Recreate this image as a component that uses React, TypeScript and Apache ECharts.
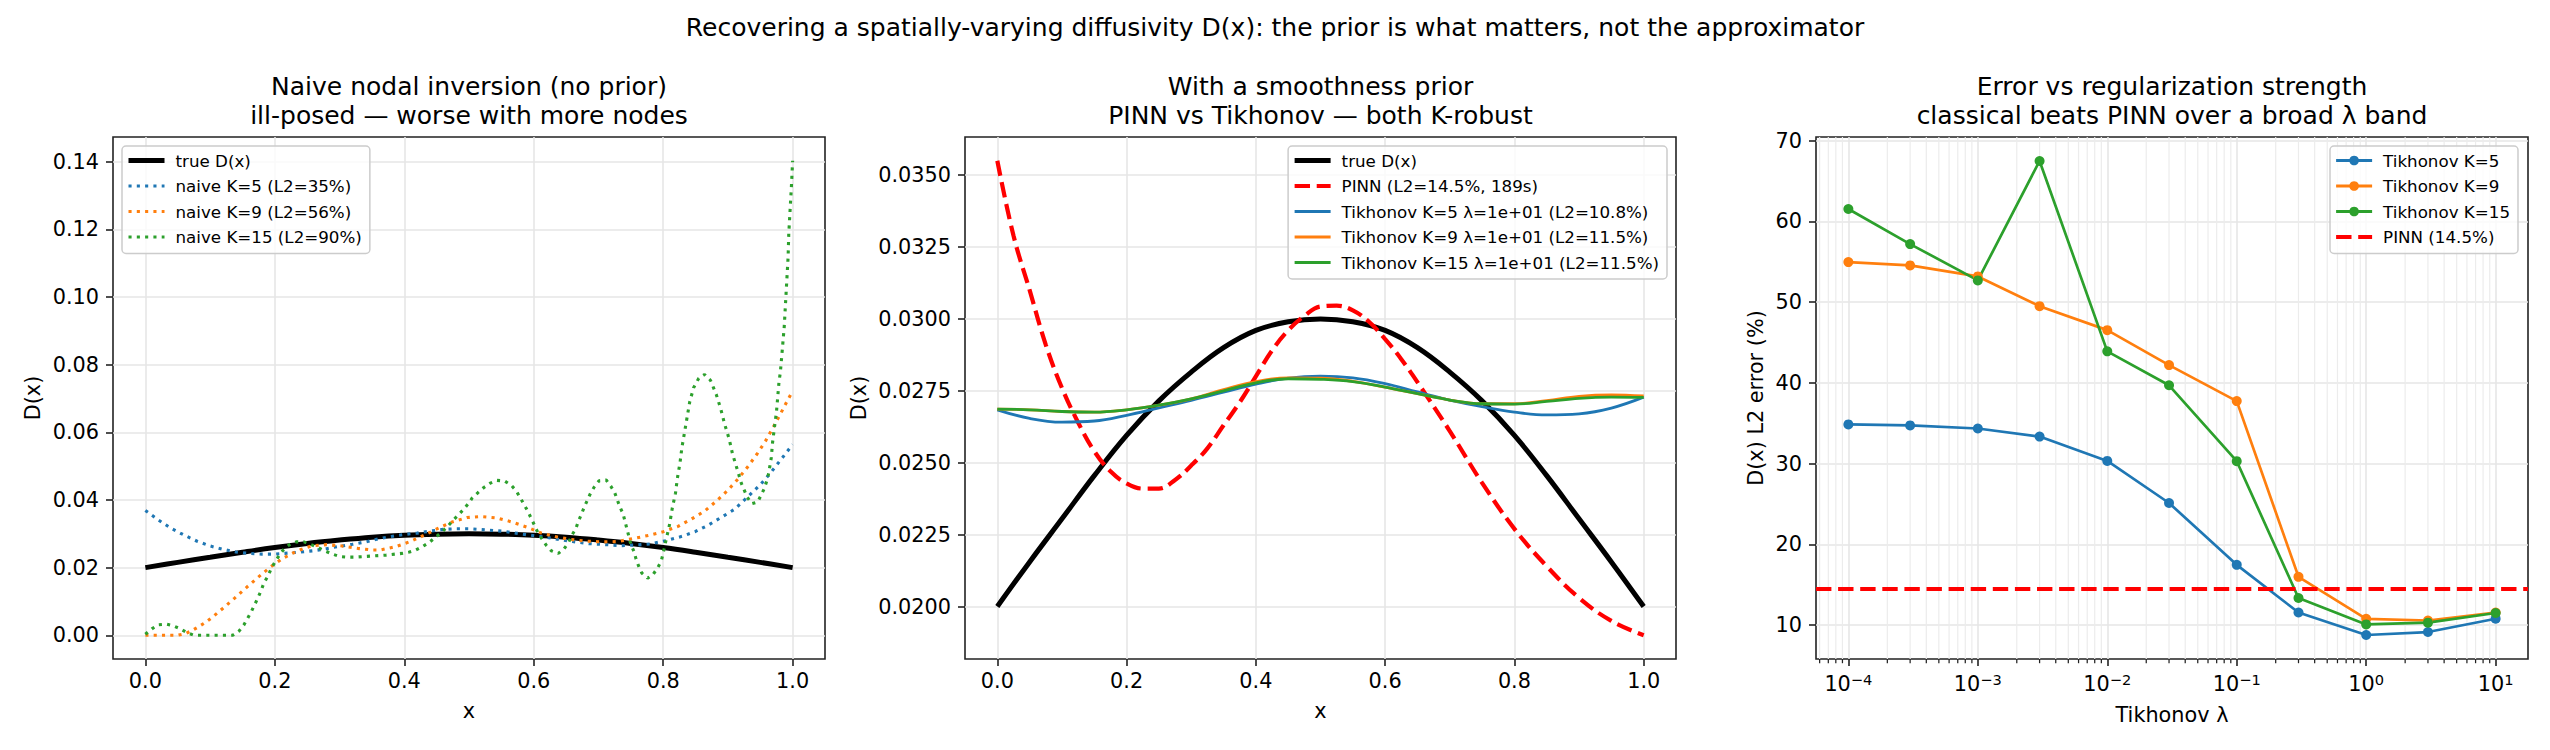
import { useEffect, useRef } from "react";
import * as echarts from "echarts";

const FONT = "DejaVu Sans";

// ---------- titles ----------
const SUPTITLE =
  "Recovering a spatially-varying diffusivity D(x): the prior is what matters, not the approximator";
const TITLE1 = "Naive nodal inversion (no prior)\nill-posed — worse with more nodes";
const TITLE2 = "With a smoothness prior\nPINN vs Tikhonov — both K-robust";
const TITLE3 = "Error vs regularization strength\nclassical beats PINN over a broad λ band";

// ---------- true D(x) (panels 1 & 2) ----------
const trueX = [0, 0.05, 0.1, 0.15, 0.2, 0.25, 0.3, 0.35, 0.4, 0.45, 0.5, 0.55, 0.6, 0.65, 0.7, 0.75, 0.8, 0.85, 0.9, 0.95, 1.0];
const trueD = [0.02, 0.02155, 0.02305, 0.02455, 0.02595, 0.02715, 0.02815, 0.029, 0.0296, 0.0299, 0.03, 0.0299, 0.0296, 0.029, 0.02815, 0.02715, 0.02595, 0.02455, 0.02305, 0.02155, 0.02];

// ---------- panel 1: naive nodal inversion ----------
const naiveK5X = [0, 0.02, 0.04, 0.06, 0.08, 0.1, 0.12, 0.14, 0.16, 0.18, 0.2, 0.22, 0.24, 0.26, 0.28, 0.3, 0.32, 0.34, 0.36, 0.38, 0.4, 0.42, 0.44, 0.46, 0.48, 0.5, 0.53, 0.555, 0.59, 0.615, 0.64, 0.66, 0.685, 0.71, 0.735, 0.76, 0.78, 0.805, 0.83, 0.85, 0.87, 0.89, 0.91, 0.93, 0.95, 0.965, 0.985, 1.0];
const naiveK5Y = [0.0369, 0.0341, 0.0316, 0.0296, 0.0278, 0.0264, 0.0254, 0.0246, 0.0242, 0.024, 0.024, 0.0243, 0.0246, 0.025, 0.0256, 0.0263, 0.0269, 0.0276, 0.0285, 0.0292, 0.0298, 0.0302, 0.0308, 0.0313, 0.0315, 0.0315, 0.0311, 0.0307, 0.0297, 0.0291, 0.0283, 0.0277, 0.0271, 0.0268, 0.0265, 0.0267, 0.027, 0.028, 0.0293, 0.0307, 0.0326, 0.0349, 0.0372, 0.0408, 0.0445, 0.0478, 0.0527, 0.0564];

const naiveK9X = [0, 0.025, 0.05, 0.062, 0.072, 0.082, 0.092, 0.102, 0.12, 0.138, 0.156, 0.174, 0.192, 0.212, 0.234, 0.256, 0.28, 0.304, 0.328, 0.351, 0.363, 0.387, 0.409, 0.431, 0.452, 0.474, 0.497, 0.519, 0.543, 0.566, 0.589, 0.612, 0.635, 0.658, 0.682, 0.706, 0.73, 0.754, 0.777, 0.8, 0.823, 0.844, 0.864, 0.883, 0.9, 0.916, 0.931, 0.945, 0.958, 0.97, 0.981, 0.992, 1.0];
const naiveK9Y = [0, 0, 0, 0.0005, 0.0014, 0.0025, 0.0037, 0.0051, 0.008, 0.011, 0.0141, 0.0171, 0.02, 0.0227, 0.0249, 0.0264, 0.0268, 0.0264, 0.0257, 0.0252, 0.0252, 0.0262, 0.0277, 0.0296, 0.0316, 0.0335, 0.0348, 0.0351, 0.0347, 0.0335, 0.032, 0.0302, 0.0291, 0.0283, 0.0278, 0.0276, 0.0277, 0.0286, 0.0295, 0.0306, 0.0322, 0.0344, 0.0367, 0.0398, 0.0429, 0.0463, 0.0499, 0.0536, 0.0574, 0.0615, 0.0654, 0.0694, 0.0722];

const naiveK15X = [0, 0.01, 0.02, 0.032, 0.043, 0.054, 0.065, 0.075, 0.1, 0.135, 0.145, 0.152, 0.158, 0.164, 0.169, 0.174, 0.179, 0.183, 0.189, 0.194, 0.2, 0.206, 0.213, 0.222, 0.233, 0.245, 0.256, 0.267, 0.278, 0.289, 0.3, 0.312, 0.324, 0.348, 0.372, 0.396, 0.408, 0.418, 0.429, 0.439, 0.449, 0.458, 0.467, 0.475, 0.483, 0.492, 0.5, 0.505, 0.514, 0.523, 0.533, 0.543, 0.555, 0.565, 0.573, 0.579, 0.585, 0.591, 0.596, 0.601, 0.606, 0.612, 0.619, 0.627, 0.638, 0.647, 0.654, 0.659, 0.665, 0.669, 0.674, 0.678, 0.683, 0.688, 0.694, 0.701, 0.712, 0.719, 0.725, 0.729, 0.733, 0.738, 0.741, 0.744, 0.747, 0.75, 0.755, 0.758, 0.762, 0.767, 0.776, 0.784, 0.791, 0.797, 0.8, 0.805, 0.81, 0.814, 0.819, 0.822, 0.826, 0.829, 0.833, 0.837, 0.841, 0.847, 0.855, 0.864, 0.873, 0.882, 0.889, 0.895, 0.902, 0.907, 0.914, 0.921, 0.93, 0.937, 0.946, 0.951, 0.956, 0.96, 0.963, 0.967, 0.969, 0.972, 0.975, 0.977, 0.979, 0.981, 0.984, 0.987, 0.989, 0.991, 0.993, 0.994, 0.996, 0.998, 1.0];
const naiveK15Y = [0.0003, 0.0019, 0.0031, 0.0033, 0.0028, 0.0019, 0.0007, 0, 0, 0, 0.0013, 0.003, 0.005, 0.0071, 0.0091, 0.0111, 0.0133, 0.0154, 0.0174, 0.0195, 0.0216, 0.0234, 0.0252, 0.0267, 0.0276, 0.0276, 0.0268, 0.0259, 0.0249, 0.024, 0.0233, 0.0231, 0.0231, 0.0234, 0.0237, 0.0242, 0.0246, 0.0252, 0.0263, 0.0275, 0.0291, 0.0305, 0.0322, 0.0339, 0.0355, 0.0373, 0.0392, 0.0406, 0.0422, 0.0437, 0.045, 0.0458, 0.0456, 0.0444, 0.0427, 0.0407, 0.0387, 0.0366, 0.0346, 0.0326, 0.0305, 0.0287, 0.0267, 0.025, 0.0242, 0.0256, 0.0275, 0.0296, 0.0315, 0.0337, 0.0359, 0.0379, 0.04, 0.0421, 0.044, 0.0457, 0.0459, 0.0441, 0.0422, 0.0401, 0.038, 0.0359, 0.0337, 0.0314, 0.0292, 0.0269, 0.0247, 0.0226, 0.0205, 0.0184, 0.0169, 0.0179, 0.0198, 0.0219, 0.0243, 0.0286, 0.0329, 0.0375, 0.042, 0.0465, 0.051, 0.0556, 0.06, 0.0645, 0.069, 0.0732, 0.076, 0.0771, 0.0754, 0.0712, 0.0669, 0.0624, 0.058, 0.0537, 0.0493, 0.0448, 0.0408, 0.0389, 0.0394, 0.0413, 0.0433, 0.0456, 0.0479, 0.0525, 0.057, 0.0616, 0.066, 0.0705, 0.0751, 0.0777, 0.0844, 0.0912, 0.0981, 0.105, 0.1118, 0.1186, 0.1255, 0.1323, 0.1403];

// ---------- panel 2: smoothness prior ----------
const pinnX = [0, 0.025, 0.05, 0.075, 0.1, 0.125, 0.15, 0.175, 0.2, 0.225, 0.25, 0.275, 0.3, 0.325, 0.35, 0.375, 0.4, 0.425, 0.45, 0.475, 0.5, 0.525, 0.55, 0.575, 0.6, 0.625, 0.65, 0.7, 0.75, 0.8, 0.85, 0.9, 0.95, 1.0];
const pinnY = [0.0355, 0.0329, 0.031, 0.0291, 0.0276, 0.0264, 0.0254, 0.0247, 0.02428, 0.0241, 0.0241, 0.0244, 0.0249, 0.0255, 0.0263, 0.0271, 0.028, 0.0289, 0.0296, 0.0301, 0.03043, 0.03046, 0.0303, 0.0299, 0.0293, 0.0286, 0.0278, 0.0261, 0.0243, 0.0227, 0.0214, 0.0203, 0.0195, 0.019];

const tikX = [0, 0.05, 0.1, 0.15, 0.2, 0.25, 0.3, 0.35, 0.4, 0.45, 0.5, 0.55, 0.6, 0.65, 0.7, 0.75, 0.8, 0.85, 0.9, 0.95, 1.0];
const tikK5Y = [0.02684, 0.02654, 0.02641, 0.02645, 0.02665, 0.02691, 0.02717, 0.02745, 0.02773, 0.02794, 0.02801, 0.02795, 0.02775, 0.02746, 0.02718, 0.02695, 0.02676, 0.02666, 0.0267, 0.0269, 0.02728];
const tikK9Y = [0.02686, 0.02684, 0.02678, 0.02676, 0.02684, 0.027, 0.02722, 0.02754, 0.02782, 0.02795, 0.02794, 0.02783, 0.02763, 0.0274, 0.02718, 0.02705, 0.02705, 0.02716, 0.02731, 0.02736, 0.02732];
const tikK15Y = [0.02686, 0.02684, 0.02678, 0.02676, 0.02684, 0.027, 0.02722, 0.0275, 0.02778, 0.02792, 0.0279, 0.02782, 0.02763, 0.0274, 0.02718, 0.02705, 0.02704, 0.02713, 0.02724, 0.02728, 0.02727];

// ---------- panel 3: error vs lambda ----------
const lambdas = [1e-4, 3e-4, 1e-3, 3e-3, 1e-2, 3e-2, 1e-1, 3e-1, 1, 3, 10];
const errK5 = [34.85, 34.73, 34.35, 33.35, 30.33, 25.12, 17.46, 11.56, 8.77, 9.14, 10.78];
const errK9 = [54.96, 54.55, 53.18, 49.5, 46.53, 42.2, 37.74, 15.98, 10.78, 10.57, 11.56];
const errK15 = [61.53, 57.19, 52.69, 67.48, 43.9, 39.7, 30.3, 13.36, 10.08, 10.3, 11.5];
const pinnErr = 14.5;

// ---------- tick values ----------
const xTicks = [0, 0.2, 0.4, 0.6, 0.8, 1.0];
const p1YTicks = [0, 0.02, 0.04, 0.06, 0.08, 0.1, 0.12, 0.14];
const p2YTicks = [0.02, 0.0225, 0.025, 0.0275, 0.03, 0.0325, 0.035];
const p3YTicks = [10, 20, 30, 40, 50, 60, 70];
const p3XDecades = [-4, -3, -2, -1, 0, 1];

// axis ranges
const X_MIN = -0.05, X_MAX = 1.05;
const P1_YMIN = -0.00702, P1_YMAX = 0.14732;
const P2_YMIN = 0.018175, P2_YMAX = 0.036325;
const P3_XMIN = -4.25, P3_XMAX = 1.25;
const P3_YMIN = 5.8, P3_YMAX = 70.45;

const BLUE = "#1f77b4", ORANGE = "#ff7f0e", GREEN = "#2ca02c", RED = "#ff0000";
const SPINE = "#222222";
const GRIDC = "#e6e6e6";
const DOT = [3.1, 5.2];
const DASH = [15.4, 6.7];

const pairs = (xs: number[], ys: number[]) => xs.map((x, i) => [x, ys[i]]);

function axisCommon(gridIndex: number, min: number, max: number, ticks: number[], fmt: any, margin: number) {
  return {
    type: "value",
    gridIndex,
    min,
    max,
    axisLine: { show: false, onZero: false },
    axisTick: { show: true, length: 7, lineStyle: { color: SPINE, width: 1.6 }, customValues: ticks },
    axisLabel: { customValues: ticks, formatter: fmt, color: "#000", fontSize: 20.8, fontFamily: FONT, margin },
    splitLine: { show: true, lineStyle: { color: GRIDC, width: 1.6 } },
    nameTextStyle: { color: "#000", fontSize: 20.8, fontFamily: FONT },
    nameLocation: "middle",
  };
}

const minorVals: number[] = [];
for (let e = -5; e <= 1; e++) {
  for (let k = 2; k <= 9; k++) {
    const v = Math.log10(k) + e;
    if (v > P3_XMIN && v < P3_XMAX) minorVals.push(v);
  }
}

const legendBase = {
  orient: "vertical",
  itemWidth: 36,
  itemHeight: 14,
  itemGap: 8.5,
  padding: [6, 8, 8, 4],
  backgroundColor: "rgba(255,255,255,0.8)",
  borderColor: "#cccccc",
  borderWidth: 1.5,
  borderRadius: 4,
  selectedMode: false,
  textStyle: { fontSize: 16.7, fontFamily: FONT, color: "#000", padding: [0, 0, 0, 6] },
};

// legend entry: line handle with given width/type, marker optional
const entry = (name: string, color: string, width: number, type: any, marker: boolean) => ({
  name,
  itemStyle: marker ? { color, opacity: 1 } : { opacity: 0 },
  lineStyle: { color, width, type, opacity: 1 },
});

const titleStyle = { fontSize: 25, fontWeight: "normal", color: "#000", fontFamily: FONT, lineHeight: 29 };

const option: any = {
  animation: false,
  backgroundColor: "#ffffff",
  title: [
    { text: SUPTITLE, left: 1275, top: 12, textAlign: "center", padding: 0, textStyle: { ...titleStyle, lineHeight: 30 } },
    { text: TITLE1, left: 469, top: 72, textAlign: "center", padding: 0, textStyle: titleStyle },
    { text: TITLE2, left: 1320.5, top: 72, textAlign: "center", padding: 0, textStyle: titleStyle },
    { text: TITLE3, left: 2172, top: 72, textAlign: "center", padding: 0, textStyle: titleStyle },
  ],
  grid: [
    { left: 113, top: 137, width: 712, height: 522, show: true, borderColor: SPINE, borderWidth: 1.6, backgroundColor: "transparent" },
    { left: 965, top: 137, width: 711, height: 522, show: true, borderColor: SPINE, borderWidth: 1.6, backgroundColor: "transparent" },
    { left: 1816, top: 137, width: 712, height: 522, show: true, borderColor: SPINE, borderWidth: 1.6, backgroundColor: "transparent" },
  ],
  xAxis: [
    { ...axisCommon(0, X_MIN, X_MAX, xTicks, (v: number) => v.toFixed(1), 11), name: "x", nameGap: 41.5 },
    { ...axisCommon(1, X_MIN, X_MAX, xTicks, (v: number) => v.toFixed(1), 11), name: "x", nameGap: 41.5 },
    {
      ...axisCommon(2, P3_XMIN, P3_XMAX, p3XDecades, null, 12.7),
      axisLabel: {
        customValues: p3XDecades,
        formatter: (v: number) => `{b|10}{s|${v < 0 ? "\u2212" + Math.round(-v) : Math.round(v)}}`,
        margin: 12.7,
        rich: {
          b: { fontSize: 20.8, fontFamily: FONT, color: "#000", lineHeight: 23, verticalAlign: "bottom" },
          s: { fontSize: 14.6, fontFamily: FONT, color: "#000", lineHeight: 23, verticalAlign: "top" },
        },
      },
      name: "Tikhonov λ",
      nameGap: 45,
    },
  ],
  yAxis: [
    { ...axisCommon(0, P1_YMIN, P1_YMAX, p1YTicks, (v: number) => v.toFixed(2), 14), name: "D(x)", nameGap: 70 },
    { ...axisCommon(1, P2_YMIN, P2_YMAX, p2YTicks, (v: number) => v.toFixed(4), 14), name: "D(x)", nameGap: 95.6 },
    { ...axisCommon(2, P3_YMIN, P3_YMAX, p3YTicks, (v: number) => String(Math.round(v)), 14), name: "D(x) L2 error (%)", nameGap: 50 },
  ],
  legend: [
    {
      ...legendBase,
      left: 122,
      top: 146,
      data: [
        entry("true D(x)", "#000", 5, "solid", false),
        entry("naive K=5 (L2=35%)", BLUE, 3.1, DOT, false),
        entry("naive K=9 (L2=56%)", ORANGE, 3.1, DOT, false),
        entry("naive K=15 (L2=90%)", GREEN, 3.1, DOT, false),
      ],
    },
    {
      ...legendBase,
      right: 883,
      top: 146,
      data: [
        entry("true D(x)", "#000", 5, "solid", false),
        entry("PINN (L2=14.5%, 189s)", RED, 4.2, DASH, false),
        entry("Tikhonov K=5 λ=1e+01 (L2=10.8%)", BLUE, 3, "solid", false),
        entry("Tikhonov K=9 λ=1e+01 (L2=11.5%)", ORANGE, 3, "solid", false),
        entry("Tikhonov K=15 λ=1e+01 (L2=11.5%)", GREEN, 3, "solid", false),
      ],
    },
    {
      ...legendBase,
      itemHeight: 12,
      right: 32,
      top: 146,
      data: [
        entry("Tikhonov K=5", BLUE, 3, "solid", true),
        entry("Tikhonov K=9", ORANGE, 3, "solid", true),
        entry("Tikhonov K=15", GREEN, 3, "solid", true),
        entry("PINN (14.5%)", RED, 4.2, DASH, false),
      ],
    },
  ],
  series: [
    // ---- panel 1 ----
    {
      type: "line", name: "true D(x)", xAxisIndex: 0, yAxisIndex: 0, data: pairs(trueX, trueD),
      smooth: 0.4, symbol: "none", silent: true, color: "#000", lineStyle: { color: "#000", width: 5 },
    },
    {
      type: "line", name: "naive K=5 (L2=35%)", xAxisIndex: 0, yAxisIndex: 0, data: pairs(naiveK5X, naiveK5Y),
      symbol: "none", silent: true, color: BLUE, lineStyle: { color: BLUE, width: 3.1, type: DOT },
    },
    {
      type: "line", name: "naive K=9 (L2=56%)", xAxisIndex: 0, yAxisIndex: 0, data: pairs(naiveK9X, naiveK9Y),
      symbol: "none", silent: true, color: ORANGE, lineStyle: { color: ORANGE, width: 3.1, type: DOT },
    },
    {
      type: "line", name: "naive K=15 (L2=90%)", xAxisIndex: 0, yAxisIndex: 0, data: pairs(naiveK15X, naiveK15Y),
      symbol: "none", silent: true, color: GREEN, lineStyle: { color: GREEN, width: 3.1, type: DOT },
    },
    // ---- panel 2 ----
    {
      type: "line", name: "true D(x)", xAxisIndex: 1, yAxisIndex: 1, data: pairs(trueX, trueD),
      smooth: 0.4, symbol: "none", silent: true, color: "#000", lineStyle: { color: "#000", width: 5 },
    },
    {
      type: "line", name: "PINN (L2=14.5%, 189s)", xAxisIndex: 1, yAxisIndex: 1, data: pairs(pinnX, pinnY),
      smooth: 0.4, symbol: "none", silent: true, color: RED, lineStyle: { color: RED, width: 4.2, type: DASH },
    },
    {
      type: "line", name: "Tikhonov K=5 λ=1e+01 (L2=10.8%)", xAxisIndex: 1, yAxisIndex: 1, data: pairs(tikX, tikK5Y),
      smooth: 0.4, symbol: "none", silent: true, color: BLUE, lineStyle: { color: BLUE, width: 2.8 },
    },
    {
      type: "line", name: "Tikhonov K=9 λ=1e+01 (L2=11.5%)", xAxisIndex: 1, yAxisIndex: 1, data: pairs(tikX, tikK9Y),
      smooth: 0.4, symbol: "none", silent: true, color: ORANGE, lineStyle: { color: ORANGE, width: 2.8 },
    },
    {
      type: "line", name: "Tikhonov K=15 λ=1e+01 (L2=11.5%)", xAxisIndex: 1, yAxisIndex: 1, data: pairs(tikX, tikK15Y),
      smooth: 0.4, symbol: "none", silent: true, color: GREEN, lineStyle: { color: GREEN, width: 2.8 },
    },
    // ---- panel 3: minor log grid + ticks ----
    {
      type: "custom", xAxisIndex: 2, yAxisIndex: 2, silent: true, clip: false,
      data: minorVals.map((v) => [v, P3_YMIN]),
      renderItem: (_p: any, api: any) => {
        const v = api.value(0);
        const b = api.coord([v, P3_YMIN]);
        const t = api.coord([v, P3_YMAX]);
        return {
          type: "group",
          children: [
            { type: "line", shape: { x1: b[0], y1: t[1], x2: b[0], y2: b[1] }, style: { stroke: "#ececec", lineWidth: 1.2 } },
            { type: "line", shape: { x1: b[0], y1: b[1], x2: b[0], y2: b[1] + 4.2 }, style: { stroke: SPINE, lineWidth: 1.25 } },
          ],
        };
      },
    },
    {
      type: "line", name: "Tikhonov K=5", xAxisIndex: 2, yAxisIndex: 2,
      data: lambdas.map((l, i) => [Math.log10(l), errK5[i]]),
      symbol: "circle", symbolSize: 10, silent: true, color: BLUE, itemStyle: { color: BLUE }, lineStyle: { color: BLUE, width: 2.7 },
    },
    {
      type: "line", name: "Tikhonov K=9", xAxisIndex: 2, yAxisIndex: 2,
      data: lambdas.map((l, i) => [Math.log10(l), errK9[i]]),
      symbol: "circle", symbolSize: 10, silent: true, color: ORANGE, itemStyle: { color: ORANGE }, lineStyle: { color: ORANGE, width: 2.7 },
    },
    {
      type: "line", name: "Tikhonov K=15", xAxisIndex: 2, yAxisIndex: 2,
      data: lambdas.map((l, i) => [Math.log10(l), errK15[i]]),
      symbol: "circle", symbolSize: 10, silent: true, color: GREEN, itemStyle: { color: GREEN }, lineStyle: { color: GREEN, width: 2.7 },
    },
    {
      type: "line", name: "PINN (14.5%)", xAxisIndex: 2, yAxisIndex: 2, data: [],
      symbol: "none", silent: true, color: RED, lineStyle: { color: RED, width: 4.2, type: DASH },
      markLine: {
        silent: true, symbol: "none", label: { show: false },
        lineStyle: { color: RED, width: 4.2, type: DASH },
        emphasis: { disabled: true },
        data: [{ yAxis: pinnErr }],
      },
    },
  ],
};

export default function App() {
  const ref = useRef<HTMLDivElement>(null);
  useEffect(() => {
    document.body.style.margin = "0";
    const chart = echarts.init(ref.current!, null, { renderer: "svg", width: 2550, height: 750 });
    chart.setOption(option);
    return () => chart.dispose();
  }, []);
  return (
    <div
      ref={ref}
      style={{ width: 2550, height: 750, position: "absolute", left: 0, top: 0, background: "#fff" }}
    />
  );
}
